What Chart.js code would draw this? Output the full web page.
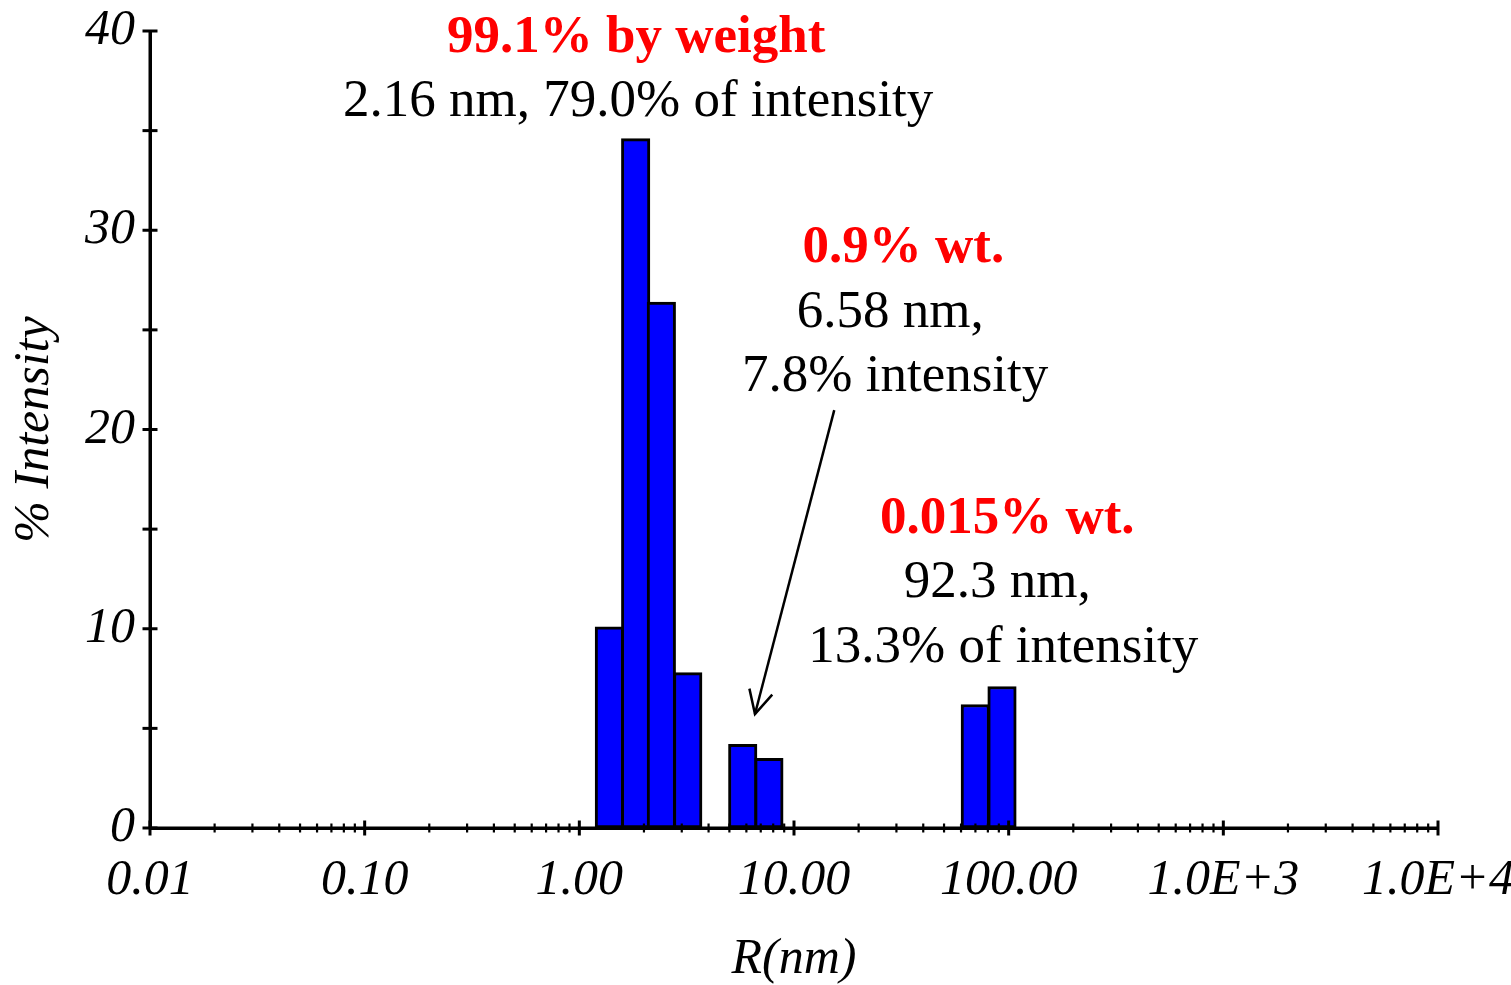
<!DOCTYPE html>
<html><head><meta charset="utf-8">
<script src="https://cdn.jsdelivr.net/npm/chart.js@4"></script>
<style>html,body{margin:0;padding:0;background:#fff;overflow:hidden}</style>
</head><body>
<canvas id="c" width="1511" height="985" style="display:block;width:1511px;height:985px"></canvas>
<script>
// ---- data ----
const radiusNm = [1.38, 1.83, 2.41, 3.20, 5.77, 7.64, 69.9, 93.1];
const intensityPct = [10.1, 34.6, 26.4, 7.8, 4.2, 3.5, 6.2, 7.1];
const xTickLabels = ['0.01', '0.10', '1.00', '10.00', '100.00', '1.0E+3', '1.0E+4'];
const yTickLabels = ['0', '10', '20', '30', '40'];
const xTitle = 'R(nm)';
const yTitle = '% Intensity';
const noteTexts = ['99.1% by weight', '2.16 nm, 79.0% of intensity', '0.9% wt.', '6.58 nm,', '7.8% intensity', '0.015% wt.', '92.3 nm,', '13.3% of intensity'];
const noteBold = [true, false, true, false, false, true, false, false];
// note anchors in data coordinates (x in nm, y in % intensity; text baseline)
const noteX = [1.84, 1.88, 32.3, 28.1, 29.6, 98.5, 88.5, 94.4];
const noteY = [38.94, 35.72, 28.4, 25.14, 21.93, 14.80, 11.59, 8.33];
const arrowTail = [15.4, 20.97];
const arrowHead = [6.58, 5.72];

const serif = '"Liberation Serif", "Times New Roman", serif';
Chart.defaults.font.family = serif;
Chart.defaults.color = '#000';

function isPow10(v) { const l = Math.log10(v); return Math.abs(l - Math.round(l)) < 1e-9; }

const crossTicks = {
  id: 'crossTicks',
  afterDatasetsDraw(chart) {
    const { ctx, scales: { x, y } } = chart;
    const ay = y.getPixelForValue(0);
    const ax = x.getPixelForValue(x.min);
    ctx.save();
    ctx.strokeStyle = '#000';
    ctx.lineCap = 'butt';
    ctx.lineWidth = 3;
    ctx.beginPath(); ctx.moveTo(ax, ay); ctx.lineTo(x.getPixelForValue(x.max), ay); ctx.stroke();
    ctx.beginPath(); ctx.moveTo(ax, ay); ctx.lineTo(ax, y.getPixelForValue(y.max)); ctx.stroke();
    x.ticks.forEach(t => {
      const px = x.getPixelForValue(t.value);
      const major = isPow10(t.value);
      const h = major ? 7.5 : 4.5;
      ctx.lineWidth = major ? 3 : 2.2;
      ctx.beginPath(); ctx.moveTo(px, ay - h); ctx.lineTo(px, ay + h); ctx.stroke();
    });
    y.ticks.forEach(t => {
      const py = y.getPixelForValue(t.value);
      ctx.lineWidth = 3;
      ctx.beginPath(); ctx.moveTo(ax - 7.5, py); ctx.lineTo(ax + 7.5, py); ctx.stroke();
    });
    ctx.restore();
  }
};

const notes = {
  id: 'notes',
  afterDraw(chart) {
    const { ctx, scales: { x, y } } = chart;
    ctx.save();
    ctx.textAlign = 'center';
    ctx.textBaseline = 'alphabetic';
    noteTexts.forEach((t, i) => {
      ctx.font = (noteBold[i] ? 'bold ' : '') + '53px ' + serif;
      ctx.fillStyle = noteBold[i] ? '#ff0000' : '#000';
      ctx.fillText(t, x.getPixelForValue(noteX[i]), y.getPixelForValue(noteY[i]));
    });
    const x1 = x.getPixelForValue(arrowTail[0]), y1 = y.getPixelForValue(arrowTail[1]);
    const x2 = x.getPixelForValue(arrowHead[0]), y2 = y.getPixelForValue(arrowHead[1]);
    ctx.strokeStyle = '#000';
    ctx.lineWidth = 2.5;
    ctx.beginPath(); ctx.moveTo(x1, y1); ctx.lineTo(x2, y2); ctx.stroke();
    const ang = Math.atan2(y1 - y2, x1 - x2);
    const L = 26, a = 27 * Math.PI / 180;
    ctx.beginPath();
    ctx.moveTo(x2 + L * Math.cos(ang - a), y2 + L * Math.sin(ang - a));
    ctx.lineTo(x2, y2);
    ctx.lineTo(x2 + L * Math.cos(ang + a), y2 + L * Math.sin(ang + a));
    ctx.stroke();
    ctx.restore();
  }
};

new Chart(document.getElementById('c'), {
  type: 'bar',
  data: {
    datasets: [{
      data: radiusNm.map((r, i) => ({ x: r, y: intensityPct[i] })),
      backgroundColor: '#0000ff',
      borderColor: '#000',
      borderWidth: 3,
      borderSkipped: false,
      barThickness: 28.5
    }]
  },
  options: {
    responsive: false,
    animation: false,
    devicePixelRatio: 1,
    layout: { padding: { top: 31, right: 73, left: 0, bottom: 0 } },
    plugins: { legend: { display: false }, tooltip: { enabled: false } },
    scales: {
      x: {
        type: 'logarithmic',
        min: 0.01, max: 10000,
        offset: false,
        afterBuildTicks: (s) => {
          const ticks = [];
          for (let e = -2; e < 4; e++) {
            for (let m = 1; m <= 9; m++) ticks.push({ value: Number((m * Math.pow(10, e)).toPrecision(12)) });
          }
          ticks.push({ value: 10000 });
          s.ticks = ticks;
        },
        afterFit: (s) => { s.height = 157; },
        grid: { display: false, drawTicks: false },
        border: { display: true, color: '#000', width: 3 },
        ticks: {
          autoSkip: false, maxRotation: 0, minRotation: 0, padding: -4,
          font: { size: 50, style: 'italic', lineHeight: 2.28 }, color: '#000',
          callback: (v) => isPow10(v) ? xTickLabels[Math.round(Math.log10(v)) + 2] : ''
        },
        title: { display: true, text: xTitle, color: '#000', font: { size: 50, style: 'italic', lineHeight: 1 }, padding: { top: 0, bottom: 0 } }
      },
      y: {
        min: 0, max: 40,
        afterFit: (s) => { s.width = 150; },
        grid: { display: false, drawTicks: false },
        border: { display: true, color: '#000', width: 3 },
        ticks: {
          stepSize: 5, padding: 15,
          font: { size: 50, style: 'italic', lineHeight: 0.5 }, color: '#000',
          callback: (v) => (v % 10 === 0) ? yTickLabels[v / 10] : ''
        },
        title: { display: true, text: yTitle, color: '#000', font: { size: 50, style: 'italic', lineHeight: 1 }, padding: { top: 10, bottom: 0 } }
      }
    }
  },
  plugins: [crossTicks, notes]
});
</script>
</body></html>
